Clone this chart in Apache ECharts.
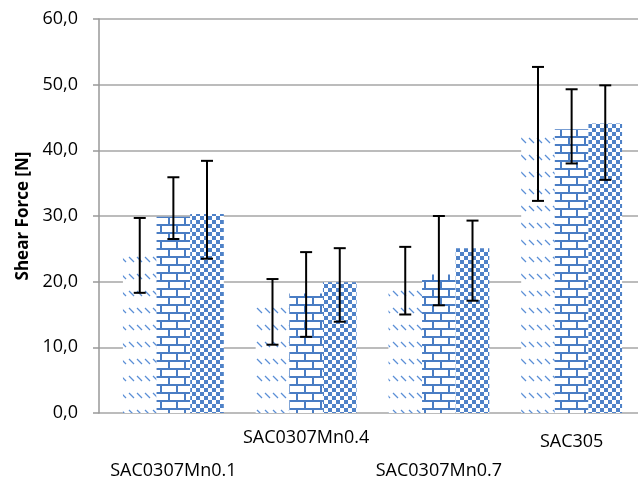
<!DOCTYPE html>
<html>
<head>
<meta charset="utf-8">
<script src="https://cdn.jsdelivr.net/npm/echarts@6/dist/echarts.min.js"></script>
<style>
  html, body { margin: 0; padding: 0; background: #fff; }
  #chart { width: 638px; height: 483px; }
</style>
</head>
<body>
<div id="chart"></div>
<script>
  // data
  const categories = ['SAC0307Mn0.1', 'SAC0307Mn0.4', 'SAC0307Mn0.7', 'SAC305'];
  const yTicks = [0, 10, 20, 30, 40, 50, 60];

  const hatchVals = [25.1, 16.1, 19.7, 43.1];
  const hatchLow  = [18.3, 10.4, 15.0, 32.3];
  const hatchHigh = [29.7, 20.4, 25.3, 52.7];

  const brickVals = [29.9, 18.2, 21.1, 43.2];
  const brickLow  = [26.5, 11.6, 16.4, 38.0];
  const brickHigh = [35.9, 24.5, 30.0, 49.3];

  const checkVals = [30.3, 19.9, 25.1, 44.1];
  const checkLow  = [23.5, 13.9, 17.1, 35.5];
  const checkHigh = [38.4, 25.1, 29.3, 49.9];

  const catGap = 0.24;

  function makeTile(w, h, draw) {
    let c = document.createElement('canvas');
    c.width = w; c.height = h;
    let ctx = c.getContext('2d');
    ctx.fillStyle = '#fff';
    ctx.fillRect(0, 0, w, h);
    draw(ctx);
    return { image: c, repeat: 'repeat' };
  }

  const hatchFill = makeTile(8, 17, function (ctx) {
    ctx.strokeStyle = '#5b8fd6';
    ctx.lineWidth = 1.3;
    ctx.beginPath();
    ctx.moveTo(1, 2);
    ctx.lineTo(6, 7);
    ctx.stroke();
  });

  const brickFill = makeTile(16, 16, function (ctx) {
    ctx.fillStyle = '#4a7dc4';
    ctx.fillRect(0, 0, 16, 2);
    ctx.fillRect(0, 8, 16, 2);
    ctx.fillRect(0, 0, 2, 8);
    ctx.fillRect(8, 8, 2, 8);
  });

  const checkFill = makeTile(8, 8, function (ctx) {
    ctx.fillStyle = '#4f82c8';
    ctx.fillRect(0, 0, 4, 4);
    ctx.fillRect(4, 4, 4, 4);
  });

  function errSeries(k, low, high) {
    let data = [];
    for (let i = 0; i < categories.length; i++) {
      data.push([i, low[i], high[i]]);
    }
    return {
      type: 'custom',
      xAxisIndex: 0,
      yAxisIndex: 0,
      z: 10,
      data: data,
      encode: { x: 0, y: [1, 2] },
      renderItem: function (params, api) {
        let pHi = api.coord([api.value(0), api.value(2)]);
        let pLo = api.coord([api.value(0), api.value(1)]);
        let band = api.size([1, 0])[0];
        let barW = band * (1 - catGap) / 3;
        let x = pHi[0] + (k - 1) * barW;
        let st = { stroke: '#000', lineWidth: 2 };
        return {
          type: 'group',
          children: [
            { type: 'line', shape: { x1: x, y1: pHi[1], x2: x, y2: pLo[1] }, style: st },
            { type: 'line', shape: { x1: x - 6, y1: pHi[1], x2: x + 6, y2: pHi[1] }, style: st },
            { type: 'line', shape: { x1: x - 6, y1: pLo[1], x2: x + 6, y2: pLo[1] }, style: st }
          ]
        };
      }
    };
  }

  let myChart = echarts.init(document.getElementById('chart'));
  let option = {
    animation: false,
    textStyle: { fontFamily: 'Open Sans' },
    grid: [
      { left: 107, right: 0, top: 19, bottom: 70 },
      { left: 99, right: 0, top: 19, bottom: 70 }
    ],
    xAxis: [
      {
        type: 'category',
        gridIndex: 0,
        data: categories,
        axisLine: { show: false },
        axisTick: { show: false },
        axisLabel: {
          interval: 0,
          margin: 16,
          color: '#000',
          fontSize: 18,
          formatter: function (v, i) {
            if (i % 2 === 0) return '{lo|' + v + '}';
            if (i === 3) return '{mid|' + v + '}';
            return '{hi|' + v + '}';
          },
          rich: {
            lo: { fontSize: 18, color: '#000', padding: [33, 0, 0, 0] },
            hi: { fontSize: 18, color: '#000', padding: [0, 0, 0, 0] },
            mid: { fontSize: 18, color: '#000', padding: [4, 0, 0, 0] }
          }
        }
      },
      {
        type: 'category',
        gridIndex: 1,
        data: categories,
        show: false
      }
    ],
    yAxis: [
      {
        type: 'value',
        gridIndex: 0,
        min: 0,
        max: 60,
        interval: 10,
        show: false
      },
      {
        type: 'value',
        gridIndex: 1,
        min: yTicks[0],
        max: yTicks[yTicks.length - 1],
        interval: 10,
        name: 'Shear Force [N]',
        nameLocation: 'middle',
        nameGap: 66,
        nameTextStyle: { fontSize: 17, fontWeight: 'bold', color: '#000' },
        axisLine: { show: true, lineStyle: { color: '#999', width: 1.5 } },
        axisTick: { show: true, inside: false, length: 6, lineStyle: { color: '#999', width: 1.5 } },
        axisLabel: {
          margin: 21,
          color: '#000',
          fontSize: 18,
          formatter: function (v) { return v.toFixed(1).replace('.', ','); }
        },
        splitLine: { show: true, lineStyle: { color: '#a6a6a6', width: 1.5 } }
      }
    ],
    series: [
      { type: 'bar', data: hatchVals, barGap: '0%', barCategoryGap: '24%', itemStyle: { color: hatchFill } },
      { type: 'bar', data: brickVals, barGap: '0%', barCategoryGap: '24%', itemStyle: { color: brickFill } },
      { type: 'bar', data: checkVals, barGap: '0%', barCategoryGap: '24%', itemStyle: { color: checkFill } },
      errSeries(0, hatchLow, hatchHigh),
      errSeries(1, brickLow, brickHigh),
      errSeries(2, checkLow, checkHigh)
    ]
  };
  myChart.setOption(option);
</script>
</body>
</html>
